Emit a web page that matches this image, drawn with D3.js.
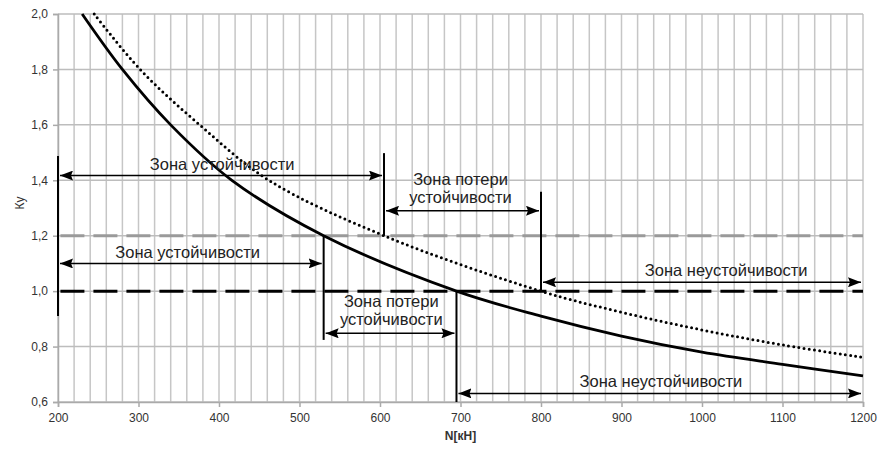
<!DOCTYPE html>
<html><head><meta charset="utf-8">
<script src="https://cdn.jsdelivr.net/npm/d3@7"></script>
<style>
html,body{margin:0;padding:0;background:#fff;}
svg{display:block;}
</style></head>
<body>
<svg id="chart" width="879" height="454"></svg>
<script>
// ---- data ----
const xTicks = [200,300,400,500,600,700,800,900,1000,1100,1200];
const yTicks = [0.6,0.8,1.0,1.2,1.4,1.6,1.8,2.0];
const xLabel = "N[кН]";
const yLabel = "Ку";

const solidN = [230,280,340,416,530,695,800,900,1000,1100,1200];
const solidK = [2.0,1.80,1.60,1.40,1.20,1.00,0.91,0.838,0.78,0.736,0.694];

const dottedN = [245,302,376,462,605,800,900,1000,1100,1200];
const dottedK = [2.0,1.80,1.60,1.40,1.20,1.00,0.924,0.86,0.806,0.761];

const refLevels = [1.2, 1.0];          // horizontal dashed thresholds
const refColors = ["#9a9a9a", "#000"];

// zone arrows: N start, N end, K level, label lines
const zoneStart = [200, 605, 800, 200, 530, 695];
const zoneEnd   = [605, 800, 1200, 530, 695, 1200];
const zoneK     = [1.417, 1.29, 1.032, 1.10, 0.848, 0.631];
const zoneText  = [
  ["Зона устойчивости"],
  ["Зона потери","устойчивости"],
  ["Зона неустойчивости"],
  ["Зона устойчивости"],
  ["Зона потери","устойчивости"],
  ["Зона неустойчивости"]
];
// label anchors: N center, K of first-line baseline
const labelN = [404, 700, 1030, 361, 614, 949];
const labelK = [1.437, 1.383, 1.056, 1.118, 0.944, 0.655];

// vertical boundary lines: N, K top, K bottom
const vLineN   = [200, 605, 800, 530, 695];
const vLineTop = [1.488, 1.498, 1.359, 1.20, 1.00];
const vLineBot = [0.91, 1.20, 1.00, 0.824, 0.60];

// ---- chart ----
const W = 879, H = 454;
const m = {left:58, right:16, top:14, bottom:52};
const FONT = "Liberation Sans, Arial, sans-serif";
const svg = d3.select("#chart");
const x = d3.scaleLinear().domain([200,1200]).range([m.left, W-m.right]);
const y = d3.scaleLinear().domain([0.6,2.0]).range([H-m.bottom, m.top]);
const fmt = v => d3.format(".1f")(v).replace(".", ",");

// grid
const minorX = d3.range(200, 1201, 20);
svg.append("g").selectAll("line").data(minorX).join("line")
  .attr("x1", d=>x(d)).attr("x2", d=>x(d))
  .attr("y1", y(0.6)).attr("y2", y(2.0))
  .attr("stroke", "#c6c6c6").attr("stroke-width", 1.5);
svg.append("g").selectAll("line").data(yTicks).join("line")
  .attr("x1", x(200)).attr("x2", x(1200))
  .attr("y1", d=>y(d)).attr("y2", d=>y(d))
  .attr("stroke", "#bdbdbd").attr("stroke-width", 1.5);

// axes
const xAxis = svg.append("g").attr("transform", `translate(0,${y(0.6)})`)
  .call(d3.axisBottom(x).tickValues(xTicks).tickSize(5).tickPadding(6).tickFormat(d3.format("d")));
const yAxis = svg.append("g").attr("transform", `translate(${x(200)},0)`)
  .call(d3.axisLeft(y).tickValues(yTicks).tickSize(5).tickPadding(5).tickFormat(fmt));
[xAxis, yAxis].forEach(a => {
  a.select(".domain").attr("stroke", "#aaa").attr("stroke-width", 1.5);
  a.selectAll(".tick line").attr("stroke", "#aaa").attr("stroke-width", 1.5);
  a.selectAll("text").attr("fill", "#333").style("font-family", FONT).style("font-size", "12px");
});

// axis titles
svg.append("text").attr("x", (x(200)+x(1200))/2).attr("y", 440)
  .attr("text-anchor", "middle").style("font-family", FONT)
  .style("font-size","12px").style("font-weight","bold").attr("fill","#333").text(xLabel);
svg.append("text").attr("transform", `translate(24,${y(1.318)}) rotate(-90)`)
  .attr("text-anchor", "middle").style("font-family", FONT)
  .style("font-size","12px").attr("fill","#333").text(yLabel);

// reference dashed lines
refLevels.forEach((k,i) => {
  svg.append("line").attr("x1", x(203)).attr("x2", x(1200))
    .attr("y1", y(k)).attr("y2", y(k))
    .attr("stroke", refColors[i]).attr("stroke-width", 3)
    .attr("stroke-dasharray", "24 9");
});

// curves
const line = d3.line().x(d=>x(d[0])).y(d=>y(d[1])).curve(d3.curveCatmullRom.alpha(0.5));
svg.append("path").datum(dottedN.map((n,i)=>[n, dottedK[i]]))
  .attr("d", line).attr("fill","none").attr("stroke","#000")
  .attr("stroke-width", 3).attr("stroke-linecap","round").attr("stroke-dasharray","0 5.2");
svg.append("path").datum(solidN.map((n,i)=>[n, solidK[i]]))
  .attr("d", line).attr("fill","none").attr("stroke","#000").attr("stroke-width", 2.8);

// arrow marker
const defs = svg.append("defs");
defs.append("marker").attr("id","ah").attr("viewBox","0 0 13 10")
  .attr("refX",13).attr("refY",5).attr("markerWidth",13).attr("markerHeight",10)
  .attr("markerUnits","userSpaceOnUse").attr("orient","auto-start-reverse")
  .append("path").attr("d","M0,0 L13,5 L0,10 L2,5 Z").attr("fill","#000");

// vertical boundary lines
vLineN.forEach((n,i) => {
  svg.append("line").attr("x1", x(n)).attr("x2", x(n))
    .attr("y1", y(vLineTop[i])).attr("y2", y(vLineBot[i]))
    .attr("stroke","#000").attr("stroke-width", 2);
});

// zone arrows + labels
zoneStart.forEach((s,i) => {
  svg.append("line").attr("x1", x(s)+2).attr("x2", x(zoneEnd[i])-2)
    .attr("y1", y(zoneK[i])).attr("y2", y(zoneK[i]))
    .attr("stroke","#000").attr("stroke-width", 1.5)
    .attr("marker-start","url(#ah)").attr("marker-end","url(#ah)");
  const t = svg.append("text").attr("x", x(labelN[i])).attr("y", y(labelK[i]))
    .attr("text-anchor","middle").style("font-family", FONT)
    .style("font-size","16.5px").attr("fill","#222");
  zoneText[i].forEach((ln,j) => {
    t.append("tspan").attr("x", x(labelN[i])).attr("dy", j===0 ? 0 : 18.3).text(ln);
  });
});
</script>
</body></html>
